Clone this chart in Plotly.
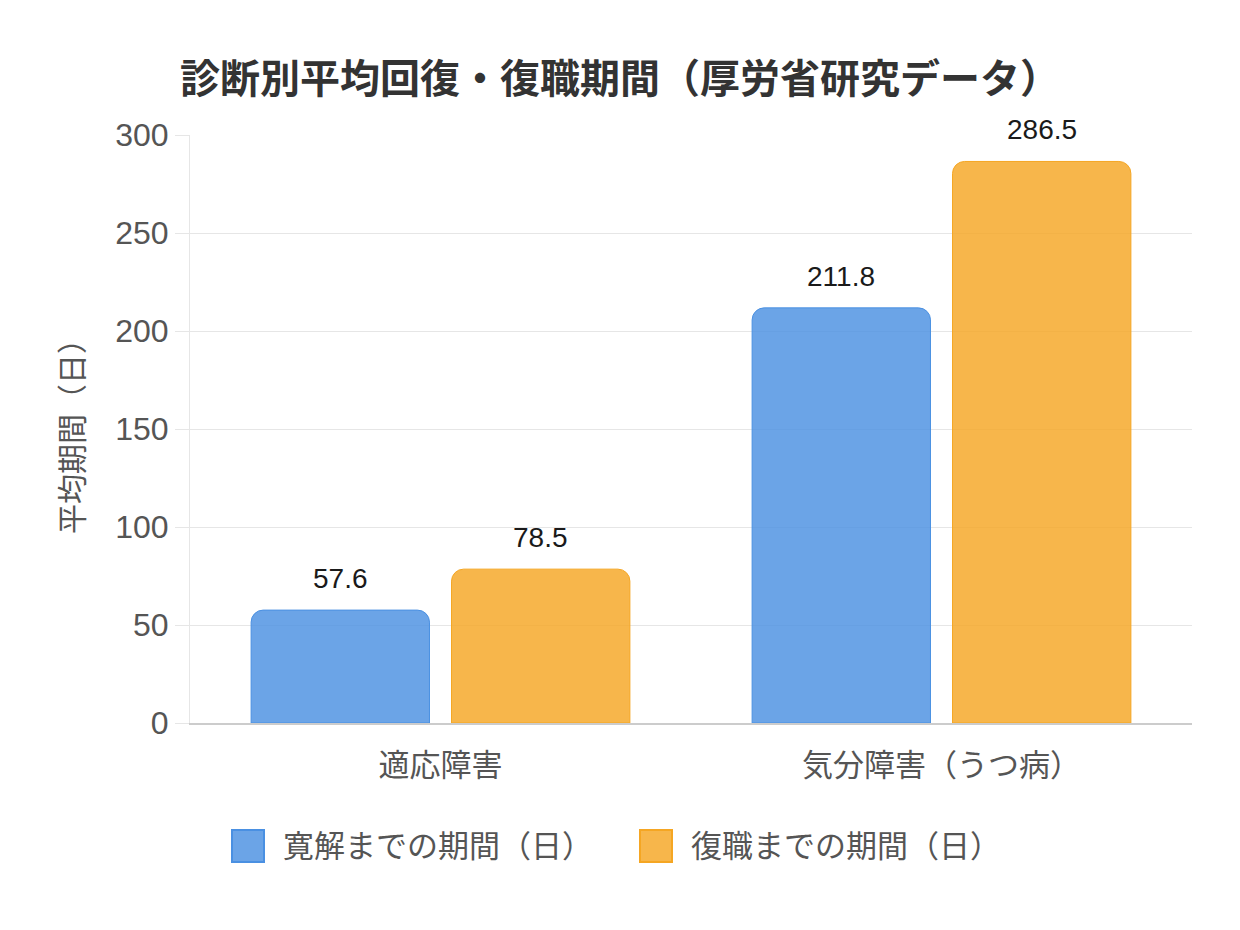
import plotly.graph_objects as go

categories = ["適応障害", "気分障害（うつ病）"]
remission_days = [57.6, 211.8]
return_days = [78.5, 286.5]
series_names = ["寛解までの期間（日）", "復職までの期間（日）"]
series_values = [remission_days, return_days]

line_colors = ["#4A90E2", "#F5A623"]
fill_colors = ["rgba(74,144,226,0.82)", "rgba(245,166,35,0.82)"]

BARGAP = 0.2
FONT = "Liberation Sans, Arial, Noto Sans CJK JP, sans-serif"

fig = go.Figure()
for name, vals, fc, lc in zip(series_names, series_values, fill_colors, line_colors):
    fig.add_trace(go.Bar(
        x=categories, y=vals, name=name,
        marker=dict(color=fc, line=dict(color=lc, width=1)),
        showlegend=False, hoverinfo="x+y",
    ))

# value labels above the bars (grouped offsets follow bargap)
slot = (1 - BARGAP) / len(series_values)
annotations = []
for i, vals in enumerate(series_values):
    off = (i - (len(series_values) - 1) / 2) * slot
    for j, v in enumerate(vals):
        annotations.append(dict(
            x=j + off, y=v, xref="x", yref="y", text=f"{v:.1f}",
            showarrow=False, yanchor="bottom", yshift=14,
            font=dict(family=FONT, size=28, color="#1a1a1a"),
        ))

# legend drawn by hand so the colour boxes are large like the reference
plot_w, plot_h = 1002, 588
legend_items = [(232, 281), (640, 689)]  # (box left px, text left px) from plot left edge 190
shapes = []
for (bx, tx), name, fc, lc in zip(legend_items, series_names, fill_colors, line_colors):
    x0 = (bx - 190) / plot_w
    x1 = (bx + 32 - 190) / plot_w
    yc = (723 - 846) / plot_h
    hh = 16 / plot_h
    shapes.append(dict(type="rect", xref="paper", yref="paper", x0=x0, x1=x1,
                       y0=yc - hh, y1=yc + hh, fillcolor=fc,
                       line=dict(color=lc, width=2)))
    annotations.append(dict(x=(tx - 190) / plot_w, y=yc, xref="paper", yref="paper",
                            text=name, showarrow=False, xanchor="left", yanchor="middle",
                            font=dict(family=FONT, size=31, color="#555")))

fig.update_layout(
    width=1232, height=914,
    font=dict(family=FONT, size=30, color="#555"),
    title=dict(text="<b>診断別平均回復・復職期間（厚労省研究データ）</b>",
               xref="container", x=0.1396, xanchor="left",
               yref="container", y=0.922, yanchor="middle",
               font=dict(family="Noto Sans CJK JP, sans-serif", size=40, color="#333")),
    plot_bgcolor="white", paper_bgcolor="white",
    barmode="group", bargap=BARGAP, bargroupgap=0.11, barcornerradius=12,
    margin=dict(l=182, r=48, t=127, b=199),
    showlegend=False,
    annotations=annotations,
    shapes=shapes,
)
fig.update_yaxes(range=[0, 300], dtick=50, gridcolor="#e6e6e6", gridwidth=1,
                 tickfont=dict(size=32, color="#555"),
                 title=dict(text="平均期間（日）", font=dict(size=30, color="#555"), standoff=22),
                 zeroline=False, showline=True, linecolor="#e6e6e6", linewidth=1,
                 ticks="outside", ticklen=14, tickcolor="#e6e6e6")
fig.update_xaxes(tickfont=dict(size=31, color="#555"), showline=True, linecolor="#cccccc",
                 linewidth=2, ticks="outside", ticklen=14, tickcolor="rgba(0,0,0,0)")

fig.write_html("out.html")
